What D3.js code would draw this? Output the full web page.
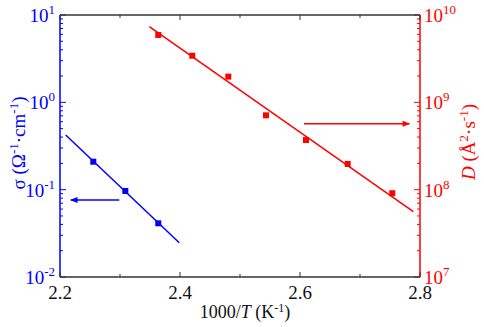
<!DOCTYPE html>
<html><head><meta charset="utf-8">
<script src="https://cdn.jsdelivr.net/npm/d3@7"></script>
<style>body{margin:0;background:#fff}svg{display:block}</style>
</head><body><div id="c"></div>
<script>
// data
const sigmaX = [2.2555, 2.3089, 2.3638];
const sigmaY = [0.209, 0.0966, 0.0412];
const sigmaFitX = [2.2095, 2.3988];
const sigmaFitY = [0.423, 0.0247];
const dX = [2.3638, 2.4205, 2.4805, 2.5433, 2.61, 2.6795, 2.7538];
const dY = [5.9e9, 3.42e9, 1.97e9, 7.1e8, 3.7e8, 1.97e8, 9.1e7];
const dFitX = [2.3489, 2.7889];
const dFitY = [7.35e9, 5.6e7];
const xTicks = [2.2, 2.4, 2.6, 2.8];
const xMinor = [2.3, 2.5, 2.7];
const leftTickExp = [-2, -1, 0, 1];
const rightTickExp = [7, 8, 9, 10];
const blueArrowX = [2.2988, 2.218], blueArrowY = 0.0762;
const redArrowX = [2.6067, 2.7822], redArrowY = 5.69e8;

const FONT = "'Liberation Serif', 'Times New Roman', 'DejaVu Serif', serif";
const W = 484, H = 327;
const L = 60, R = 420, T = 15, B = 277;
const svg = d3.select("#c").append("svg").attr("width", W).attr("height", H).attr("font-family", FONT);
const x = d3.scaleLinear().domain([2.2, 2.8]).range([L, R]);
const yL = d3.scaleLog().domain([1e-2, 1e1]).range([B, T]);
const yR = d3.scaleLog().domain([1e7, 1e10]).range([B, T]);
const BLUE = "#0000ff", RED = "#ff0000";
const FS = 19, SS = 13;

const defs = svg.append("defs");
[["ab", BLUE], ["ar", RED]].forEach(([id, c]) => {
  defs.append("marker").attr("id", id).attr("viewBox", "0 0 10 10").attr("refX", 9).attr("refY", 5)
    .attr("markerWidth", 6).attr("markerHeight", 5).attr("orient", "auto")
    .append("path").attr("d", "M0,1 L10,5 L0,9 Z").attr("fill", c);
});

function logTicks(lo, hi) {
  const t = [];
  for (let e = lo; e < hi; e++) for (let m = 1; m < 10; m++) t.push({v: m * Math.pow(10, e), major: m === 1});
  t.push({v: Math.pow(10, hi), major: true});
  return t;
}
// left axis
const gl = svg.append("g");
logTicks(-2, 1).forEach(t => {
  gl.append("line").attr("x1", L).attr("x2", L + (t.major ? 6 : 3))
    .attr("y1", yL(t.v)).attr("y2", yL(t.v)).attr("stroke", BLUE).attr("stroke-width", 1);
});
gl.append("line").attr("x1", L).attr("x2", L).attr("y1", T).attr("y2", B).attr("stroke", BLUE).attr("stroke-width", 1.5);
leftTickExp.forEach(e => {
  const t = gl.append("text").attr("x", 55).attr("y", yL(Math.pow(10, e)) + 7).attr("text-anchor", "end")
    .attr("fill", BLUE).attr("font-size", FS);
  t.append("tspan").text("10");
  t.append("tspan").attr("font-size", SS).attr("dy", -8).text(e);
});
// right axis
const gr = svg.append("g");
logTicks(7, 10).forEach(t => {
  gr.append("line").attr("x1", R).attr("x2", R - (t.major ? 6 : 3))
    .attr("y1", yR(t.v)).attr("y2", yR(t.v)).attr("stroke", RED).attr("stroke-width", 1);
});
gr.append("line").attr("x1", R).attr("x2", R).attr("y1", T).attr("y2", B).attr("stroke", RED).attr("stroke-width", 1.5);
rightTickExp.forEach(e => {
  const t = gr.append("text").attr("x", 424).attr("y", yR(Math.pow(10, e)) + 7).attr("text-anchor", "start")
    .attr("fill", RED).attr("font-size", FS);
  t.append("tspan").text("10");
  t.append("tspan").attr("font-size", SS).attr("dy", -8).text(e);
});
// top & bottom
const gx = svg.append("g");
gx.append("line").attr("x1", L).attr("x2", R).attr("y1", B).attr("y2", B).attr("stroke", "#333").attr("stroke-width", 1.5);
gx.append("line").attr("x1", L).attr("x2", R).attr("y1", T).attr("y2", T).attr("stroke", "#333").attr("stroke-width", 1.5);
xTicks.concat(xMinor).forEach(v => {
  const len = xTicks.includes(v) ? 5 : 3;
  gx.append("line").attr("x1", x(v)).attr("x2", x(v)).attr("y1", B).attr("y2", B - len).attr("stroke", "#333");
  gx.append("line").attr("x1", x(v)).attr("x2", x(v)).attr("y1", T).attr("y2", T + len).attr("stroke", "#333");
});
xTicks.forEach(v => {
  gx.append("text").attr("x", x(v)).attr("y", 299).attr("text-anchor", "middle").attr("font-size", FS)
    .attr("fill", "#111").text(v.toFixed(1));
});
// x title
const xt = svg.append("text").attr("x", 245).attr("y", 318).attr("text-anchor", "middle").attr("font-size", 18).attr("fill", "#111");
xt.append("tspan").text("1000/");
xt.append("tspan").attr("font-style", "italic").text("T");
xt.append("tspan").text(" (K");
xt.append("tspan").attr("font-size", 12).attr("dy", -6).text("-1");
xt.append("tspan").attr("dy", 6).text(")");
// left title
const lt = svg.append("text").attr("transform", "translate(25,143) rotate(-90)").attr("text-anchor", "middle")
  .attr("font-size", FS).attr("fill", BLUE);
lt.append("tspan").text("σ (Ω");
lt.append("tspan").attr("font-size", SS).attr("dy", -7).text("-1");
lt.append("tspan").attr("dy", 7).text("·cm");
lt.append("tspan").attr("font-size", SS).attr("dy", -7).text("-1");
lt.append("tspan").attr("dy", 7).text(")");
// right title
const rt = svg.append("text").attr("transform", "translate(475,142) rotate(-90)").attr("text-anchor", "middle")
  .attr("font-size", FS).attr("fill", RED);
rt.append("tspan").attr("font-style", "italic").text("D");
rt.append("tspan").text(" (Å");
rt.append("tspan").attr("font-size", SS).attr("dy", -7).text("2");
rt.append("tspan").attr("dy", 7).text("·s");
rt.append("tspan").attr("font-size", SS).attr("dy", -7).text("-1");
rt.append("tspan").attr("dy", 7).text(")");

// fit lines
const lineL = d3.line().x(d => x(d[0])).y(d => yL(d[1]));
const lineR = d3.line().x(d => x(d[0])).y(d => yR(d[1]));
svg.append("path").attr("d", lineL(d3.zip(sigmaFitX, sigmaFitY))).attr("stroke", BLUE).attr("stroke-width", 1.5).attr("fill", "none");
svg.append("path").attr("d", lineR(d3.zip(dFitX, dFitY))).attr("stroke", RED).attr("stroke-width", 1.5).attr("fill", "none");
// points
const s = 6;
svg.selectAll("rect.b").data(d3.zip(sigmaX, sigmaY)).join("rect").attr("class", "b")
  .attr("x", d => x(d[0]) - s / 2).attr("y", d => yL(d[1]) - s / 2).attr("width", s).attr("height", s).attr("fill", BLUE);
svg.selectAll("rect.r").data(d3.zip(dX, dY)).join("rect").attr("class", "r")
  .attr("x", d => x(d[0]) - s / 2).attr("y", d => yR(d[1]) - s / 2).attr("width", s).attr("height", s).attr("fill", RED);
// arrows
svg.append("line").attr("x1", x(blueArrowX[0])).attr("x2", x(blueArrowX[1])).attr("y1", yL(blueArrowY)).attr("y2", yL(blueArrowY))
  .attr("stroke", BLUE).attr("stroke-width", 1.5).attr("marker-end", "url(#ab)");
svg.append("line").attr("x1", x(redArrowX[0])).attr("x2", x(redArrowX[1])).attr("y1", yR(redArrowY)).attr("y2", yR(redArrowY))
  .attr("stroke", RED).attr("stroke-width", 1.5).attr("marker-end", "url(#ar)");
</script></body></html>
